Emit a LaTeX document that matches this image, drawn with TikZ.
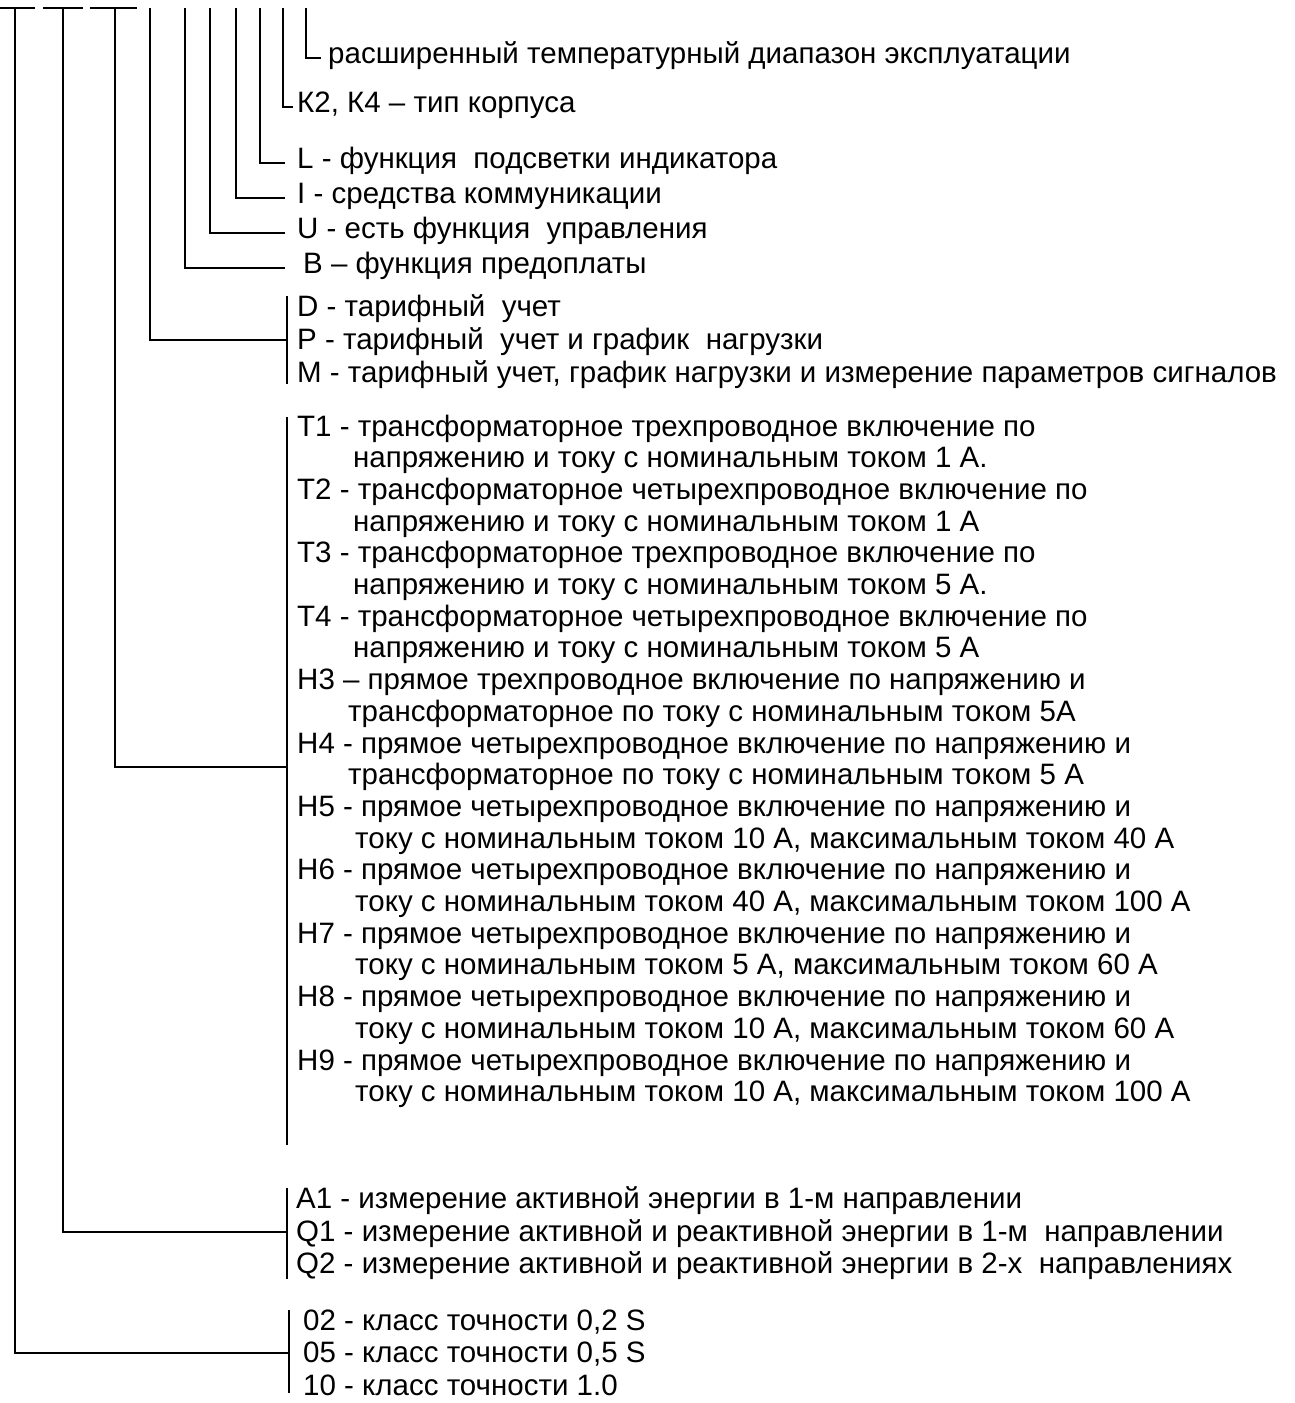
\documentclass[tikz,border=0pt]{standalone}
\usepackage{fontspec}
\setmainfont{Liberation Sans}
\usetikzlibrary{positioning}

\tikzset{
  lbl/.style={anchor=base west,inner sep=0pt,text height=10.5pt,text depth=0pt,font=\fontsize{29.5}{31.7}\selectfont},
  blk/.style={anchor=base west,inner sep=0pt,align=left,font=\fontsize{29.5}{31.7}\selectfont},
  ln/.style={line width=2pt},
}

\begin{document}
\begin{tikzpicture}[x=1pt,y=-1pt]
  \useasboundingbox (0,0) rectangle (1294,1403);

  % tops of the code lines
  \coordinate (tClass)  at (15,8);
  \coordinate (tEnergy) at (63,8);
  \coordinate (tConn)   at (115,8);
  \coordinate (tTariff) at (150,8);
  \coordinate (tPrepay) at (185,8);
  \coordinate (tCtrl)   at (210,8);
  \coordinate (tComm)   at (236,8);
  \coordinate (tLight)  at (260,8);
  \coordinate (tCase)   at (283,8);
  \coordinate (tTemp)   at (306,8);

  \draw [ln] (0,8) -- (35,8);
  \draw [ln] (43,8) -- (83,8);
  \draw [ln] (90,8) -- (137,8);

  % single options
  \node [lbl] (temp)   at (328,63)  {расширенный температурный диапазон эксплуатации};
  \node [lbl] (case)   at (297,112) {К2, К4 – тип корпуса};
  \node [lbl] (light)  at (297,168) {L - функция\ \ подсветки индикатора};
  \node [lbl] (comm)   at (297,203) {I - средства коммуникации};
  \node [lbl] (ctrl)   at (297,238) {U - есть функция\ \ управления};
  \node [lbl] (prepay) at (303,273) {B – функция предоплаты};

  \draw [ln] (tTemp)   |- ([xshift=-7pt]temp.west);
  \draw [ln] (tCase)   |- ([xshift=-4pt]case.west);
  \draw [ln] (tLight)  |- ([xshift=-12pt]light.west);
  \draw [ln] (tComm)   |- ([xshift=-12pt]comm.west);
  \draw [ln] (tCtrl)   |- ([xshift=-12pt]ctrl.west);
  \draw [ln] (tPrepay) |- ([xshift=-18pt]prepay.west);

  % tariff
  \node [lbl] (tarD) at (297,316) {D - тарифный\ \ учет};
  \node [lbl] (tarP) at (297,349) {P - тарифный\ \ учет и график\ \ нагрузки};
  \node [lbl] (tarM) at (297,382) {M - тарифный учет, график нагрузки и измерение параметров сигналов};
  \coordinate (brTarA) at (287,296);
  \coordinate (brTarB) at (287,384);
  \coordinate (brTar)  at (287,340);
  \draw [ln] (brTarA) -- (brTarB);
  \draw [ln] (tTariff) |- (brTar);

  % connection (base = second line)
  \node [blk] (T1) at (297,467.7) {T1 - трансформаторное трехпроводное включение по\\\hspace*{56pt}напряжению и току с номинальным током 1 А.};
  \node [blk] (T2) at (297,531.1) {T2 - трансформаторное четырехпроводное включение по\\\hspace*{56pt}напряжению и току с номинальным током 1 А};
  \node [blk] (T3) at (297,594.5) {T3 - трансформаторное трехпроводное включение по\\\hspace*{56pt}напряжению и току с номинальным током 5 А.};
  \node [blk] (T4) at (297,657.9) {T4 - трансформаторное четырехпроводное включение по\\\hspace*{56pt}напряжению и току с номинальным током 5 А};
  \node [blk] (H3) at (297,721.3) {H3 – прямое трехпроводное включение по напряжению и\\\hspace*{51pt}трансформаторное по току с номинальным током 5А};
  \node [blk] (H4) at (297,784.7) {H4 - прямое четырехпроводное включение по напряжению и\\\hspace*{51pt}трансформаторное по току с номинальным током 5 А};
  \node [blk] (H5) at (297,848.1) {H5 - прямое четырехпроводное включение по напряжению и\\\hspace*{58pt}току с номинальным током 10 А, максимальным током 40 А};
  \node [blk] (H6) at (297,911.5) {H6 - прямое четырехпроводное включение по напряжению и\\\hspace*{58pt}току с номинальным током 40 А, максимальным током 100 А};
  \node [blk] (H7) at (297,974.9) {H7 - прямое четырехпроводное включение по напряжению и\\\hspace*{58pt}току с номинальным током 5 А, максимальным током 60 А};
  \node [blk] (H8) at (297,1038.3) {H8 - прямое четырехпроводное включение по напряжению и\\\hspace*{58pt}току с номинальным током 10 А, максимальным током 60 А};
  \node [blk] (H9) at (297,1101.7) {H9 - прямое четырехпроводное включение по напряжению и\\\hspace*{58pt}току с номинальным током 10 А, максимальным током 100 А};
  \coordinate (brConA) at (287,417);
  \coordinate (brConB) at (287,1145);
  \coordinate (brCon)  at (287,767);
  \draw [ln] (brConA) -- (brConB);
  \draw [ln] (tConn) |- (brCon);

  % energy
  \node [lbl] (enA1) at (296,1208) {A1 - измерение активной энергии в 1-м направлении};
  \node [lbl] (enQ1) at (296,1241) {Q1 - измерение активной и реактивной энергии в 1-м\ \ направлении};
  \node [lbl] (enQ2) at (296,1273) {Q2 - измерение активной и реактивной энергии в 2-х\ \ направлениях};
  \coordinate (brEnA) at (287,1188);
  \coordinate (brEnB) at (287,1279);
  \coordinate (brEn)  at (287,1232);
  \draw [ln] (brEnA) -- (brEnB);
  \draw [ln] (tEnergy) |- (brEn);

  % accuracy class
  \node [lbl] (cl02) at (303,1330) {02 - класс точности 0,2 S};
  \node [lbl] (cl05) at (303,1362) {05 - класс точности 0,5 S};
  \node [lbl] (cl10) at (303,1395) {10 - класс точности 1.0};
  \coordinate (brClA) at (289,1310);
  \coordinate (brClB) at (289,1393);
  \coordinate (brCl)  at (289,1353);
  \draw [ln] (brClA) -- (brClB);
  \draw [ln] (tClass) |- (brCl);
\end{tikzpicture}
\end{document}
